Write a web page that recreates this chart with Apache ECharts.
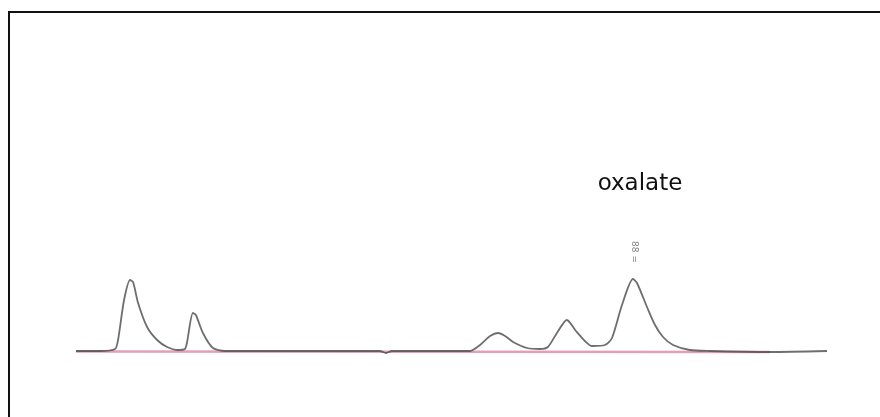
<!DOCTYPE html>
<html><head><meta charset="utf-8">
<script src="https://cdn.jsdelivr.net/npm/echarts@6/dist/echarts.min.js"></script>
<style>html,body{margin:0;padding:0;background:#fff}#c{width:880px;height:417px}</style>
</head><body><div id="c"></div>
<script>
// retention time (min) and detector signal (a.u.)
const time = [0,0.96,1.56,1.68,1.92,2.16,2.28,2.48,2.84,3.24,3.64,4.07,4.35,4.43,4.67,4.79,5.07,5.47,5.95,8.95,12.14,12.38,12.62,15.74,16.14,16.54,16.86,17.14,17.46,18.02,18.54,18.85,19.21,19.61,19.97,20.33,20.61,21.13,21.41,21.81,22.25,22.41,22.81,23.13,23.45,23.85,24.52,25.33,27.72,30];
const signal = [0,0,2,11,51,71,69,48,24,11,4,1,2,8,38,36,18,3,0,0,0,-2,0,0,6,15,18,15,9,3,2,4,18,31,20,10,5,6,13,46,72,68,44,26,14,6,1,0,-1,0];
const baseTime = [0,27.72];
const baseSignal = [-0.5,-1];
const peakName = "oxalate";
const peakLabelText = "88 =";

const chart = echarts.init(document.getElementById('c'));
const trace = time.map((t,i)=>[t,signal[i]]);
const base = baseTime.map((t,i)=>[t,baseSignal[i]]);
chart.setOption({
  animation:false,
  backgroundColor:'#fff',
  grid:{left:76,right:53,top:241,bottom:56},
  xAxis:{type:'value',min:0,max:30,show:false},
  yAxis:{type:'value',min:-10,max:110,show:false},
  series:[
    {type:'line',data:base,symbol:'none',lineStyle:{color:'#e3a0b4',width:2.5},z:1},
    {type:'line',data:trace,symbol:'none',smooth:0.25,lineStyle:{color:'#4a4a4a',width:1.8,opacity:0.8},z:2}
  ],
  graphic:[
    {type:'rect',shape:{x:9,y:12,width:900,height:450},style:{fill:'none',stroke:'#111',lineWidth:2},silent:true},
    {type:'text',x:640,y:184,style:{text:peakName,fontFamily:'DejaVu Sans',fontSize:23,fill:'#111',textAlign:'center',textVerticalAlign:'middle'}},
    {type:'text',x:634,y:252,rotation:-Math.PI/2,style:{text:peakLabelText,fontFamily:'DejaVu Sans',fontSize:9,fill:'#888',textAlign:'center',textVerticalAlign:'middle'}}
  ]
});
</script></body></html>
